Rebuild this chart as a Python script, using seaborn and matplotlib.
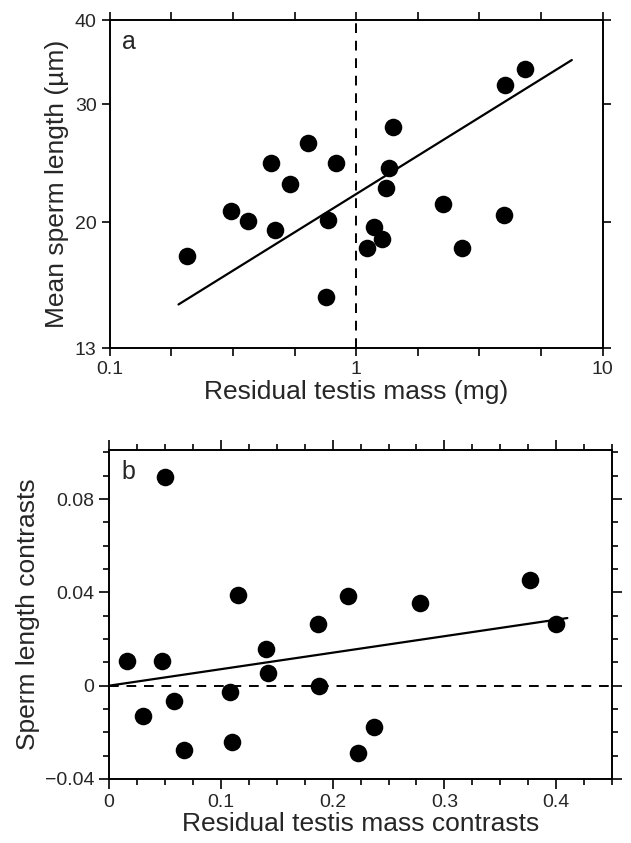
import numpy as np
import pandas as pd
import seaborn as sns
import matplotlib
matplotlib.use("Agg")
import matplotlib.pyplot as plt
from matplotlib.ticker import FixedLocator, MultipleLocator, FuncFormatter, NullFormatter

# (a) 精巣重量の残差と平均精子長 (両対数)
mass_a = [0.206, 0.311, 0.363, 0.453, 0.469, 0.537, 0.637, 0.770, 0.752, 0.827,
          1.108, 1.186, 1.27, 1.32, 1.355, 1.41, 2.24, 2.70, 3.98, 4.00, 4.86]
sperm_a = [17.8, 20.8, 20.1, 24.5, 19.5, 22.8, 26.3, 20.2, 15.5, 24.5,
           18.3, 19.7, 18.9, 22.5, 24.1, 27.7, 21.3, 18.3, 20.5, 32.0, 33.9]
fit_a_x = [0.19, 7.5]
fit_a_y = [15.1, 34.9]

# (b) 独立対比
mass_b = [0.016, 0.030, 0.047, 0.050, 0.058, 0.067, 0.1085, 0.110, 0.115, 0.140,
          0.142, 0.187, 0.188, 0.214, 0.2226, 0.237, 0.278, 0.377, 0.400]
sperm_b = [0.0104, -0.0132, 0.0105, 0.0895, -0.0065, -0.0278, -0.0029, -0.024, 0.039, 0.0158,
           0.0056, 0.0265, 0.0, 0.0383, -0.0288, -0.0178, 0.0355, 0.0452, 0.0265]
fit_b_x = [0.0, 0.41]
fit_b_y = [0.0, 0.029]

sns.set_style("ticks")
plt.rcParams['font.family'] = ['Liberation Sans', 'DejaVu Sans']
plt.rcParams['axes.linewidth'] = 1.4
plt.rcParams['xtick.major.width'] = 1.4
plt.rcParams['ytick.major.width'] = 1.4
plt.rcParams['xtick.minor.width'] = 1.4
plt.rcParams['ytick.minor.width'] = 1.4

fig = plt.figure(figsize=(6.31, 8.43), dpi=100)
ax1 = fig.add_axes([0.174, 0.587, 0.781, 0.389])
ax2 = fig.add_axes([0.173, 0.076, 0.797, 0.390])

df_a = pd.DataFrame({"mass": mass_a, "sperm": sperm_a})
df_b = pd.DataFrame({"mass": mass_b, "sperm": sperm_b})

# --- パネル a ---
ax1.set_xscale("log")
ax1.set_yscale("log")
sns.scatterplot(data=df_a, x="mass", y="sperm", ax=ax1, color="black", s=160,
                edgecolor="black", linewidth=0, zorder=3)
sns.lineplot(x=fit_a_x, y=fit_a_y, ax=ax1, color="black", lw=1.6)
ax1.axvline(1, color="black", lw=1.4, ls=(0, (5, 4)))
ax1.set_xlim(0.1, 10)
ax1.set_ylim(13, 40)
ax1.xaxis.set_major_locator(FixedLocator([0.1, 1, 10]))
ax1.xaxis.set_minor_locator(FixedLocator([10 ** (k / 4) for k in range(-4, 5)]))
ax1.xaxis.set_major_formatter(FuncFormatter(lambda v, p: f"{v:g}"))
ax1.xaxis.set_minor_formatter(NullFormatter())
ax1.yaxis.set_major_locator(FixedLocator([13, 20, 30, 40]))
ax1.yaxis.set_minor_locator(FixedLocator([]))
ax1.yaxis.set_major_formatter(FuncFormatter(lambda v, p: f"{v:g}"))
ax1.yaxis.set_minor_formatter(NullFormatter())
ax1.tick_params(axis="both", which="both", direction="out", length=6, labelsize=14,
                top=True, right=True, labeltop=False, labelright=False)
ax1.set_xlabel("Residual testis mass (mg)", fontsize=19, labelpad=1)
ax1.set_ylabel("Mean sperm length (\u00b5m)", fontsize=19, labelpad=4)
ax1.text(0.025, 0.97, "a", transform=ax1.transAxes, fontsize=18, va="top", ha="left")

# --- パネル b ---
sns.scatterplot(data=df_b, x="mass", y="sperm", ax=ax2, color="black", s=160,
                edgecolor="black", linewidth=0, zorder=3)
sns.lineplot(x=fit_b_x, y=fit_b_y, ax=ax2, color="black", lw=1.6)
ax2.axhline(0, color="black", lw=1.4, ls=(0, (5, 4)))
ax2.set_xlim(0, 0.45)
ax2.set_ylim(-0.04, 0.101)
ax2.xaxis.set_major_locator(MultipleLocator(0.1))
ax2.xaxis.set_minor_locator(MultipleLocator(0.025))
ax2.xaxis.set_major_formatter(FuncFormatter(lambda v, p: f"{v:g}"))
ax2.yaxis.set_major_locator(MultipleLocator(0.04))
ax2.yaxis.set_minor_locator(MultipleLocator(0.01))
ax2.yaxis.set_major_formatter(FuncFormatter(lambda v, p: "0" if abs(v) < 1e-9 else f"{v:g}".replace("-", "\u2212")))
ax2.tick_params(axis="both", which="major", direction="out", length=7, labelsize=14,
                top=True, right=True)
ax2.tick_params(axis="both", which="minor", direction="out", length=4,
                top=True, right=True)
ax2.set_xlabel("Residual testis mass contrasts", fontsize=19, labelpad=1)
ax2.set_ylabel("Sperm length contrasts", fontsize=19, labelpad=4)
ax2.text(0.025, 0.97, "b", transform=ax2.transAxes, fontsize=18, va="top", ha="left")

for ax in (ax1, ax2):
    for sp in ax.spines.values():
        sp.set_visible(True)
        sp.set_color("black")

fig.savefig("out.png", dpi=100)
